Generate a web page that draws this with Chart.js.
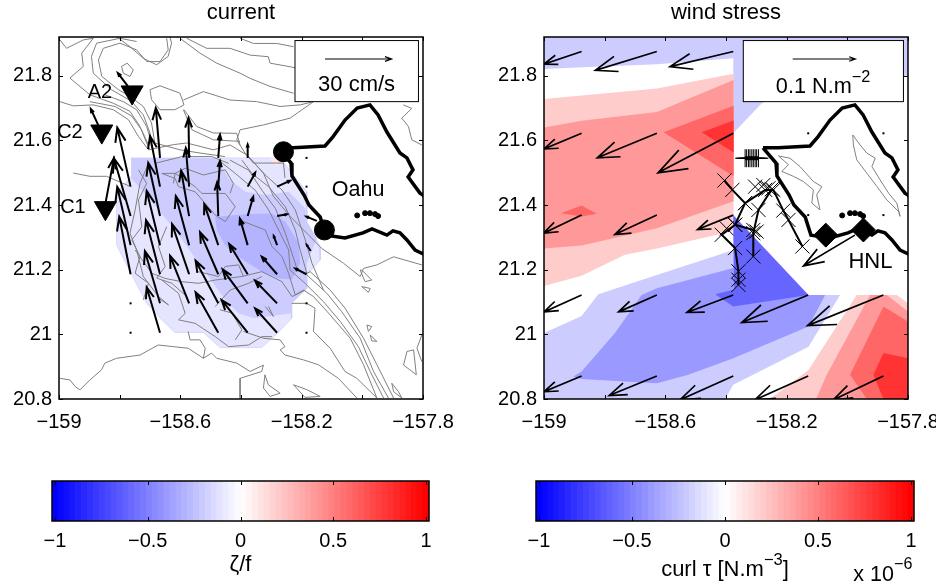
<!DOCTYPE html>
<html>
<head>
<meta charset="utf-8">
<script src="https://cdn.jsdelivr.net/npm/chart.js@4"></script>
<style>
  html, body { margin: 0; background: #fff; }
  canvas { position: absolute; }
</style>
</head>
<body>
<canvas id="mapCurrent" width="468" height="440" style="left:0;top:0"></canvas>
<canvas id="mapWind" width="468" height="440" style="left:468px;top:0"></canvas>
<canvas id="barCurrent" width="468" height="120" style="left:0;top:465px"></canvas>
<canvas id="barWind" width="468" height="120" style="left:468px;top:465px"></canvas>
<script>
// axes
const xTickVals = [-159, -158.8, -158.6, -158.4, -158.2, -158, -157.8];
const xTickLabels = ['\u2212159', '', '\u2212158.6', '', '\u2212158.2', '', '\u2212157.8'];
const yTickVals = [20.8, 21, 21.2, 21.4, 21.6, 21.8];
const yTickLabels = ['20.8', '21', '21.2', '21.4', '21.6', '21.8'];
const cbTickVals = [-1, -0.5, 0, 0.5, 1];
const cbTickLabels = ['\u22121', '\u22120.5', '0', '0.5', '1'];

// colorbar cells, one value per colour step
const cbValues = [-1, -0.9683, -0.9365, -0.9048, -0.873, -0.8413, -0.8095, -0.7778, -0.746, -0.7143, -0.6825, -0.6508, -0.619, -0.5873, -0.5556, -0.5238, -0.4921, -0.4603, -0.4286, -0.3968, -0.3651, -0.3333, -0.3016, -0.2698, -0.2381, -0.2063, -0.1746, -0.1429, -0.1111, -0.0794, -0.0476, -0.0159,
  0.0159, 0.0476, 0.0794, 0.1111, 0.1429, 0.1746, 0.2063, 0.2381, 0.2698, 0.3016, 0.3333, 0.3651, 0.3968, 0.4286, 0.4603, 0.4921, 0.5238, 0.5556, 0.5873, 0.619, 0.6508, 0.6825, 0.7143, 0.746, 0.7778, 0.8095, 0.8413, 0.873, 0.9048, 0.9365, 0.9683, 1];

// Oahu coastline, lon,lat pairs
const coast = [-158.278,21.577, -158.235,21.530, -158.232,21.490, -158.192,21.431, -158.176,21.400, -158.139,21.363, -158.120,21.307, -158.057,21.298, -157.998,21.314, -157.968,21.326, -157.919,21.307, -157.899,21.320, -157.876,21.314, -157.853,21.292, -157.826,21.261, -157.8,21.249, -157.727,21.338, -157.8,21.431, -157.81,21.437, -157.849,21.487, -157.833,21.509, -157.853,21.546, -157.876,21.561, -157.919,21.626, -157.948,21.679, -157.975,21.710, -158.017,21.700, -158.057,21.663, -158.097,21.611, -158.123,21.583, -158.228,21.577, -158.278,21.577];
const islets = [[-158.017,21.368], [-157.991,21.375], [-157.975,21.375], [-157.958,21.372], [-157.948,21.366]];

// bathymetry contours
const contours = [
  [-158.645,21.916, -158.640,21.880, -158.667,21.844, -158.711,21.844, -158.744,21.880, -158.799,21.901, -158.854,21.885, -158.870,21.849, -158.859,21.798, -158.804,21.757, -158.766,21.736, -158.722,21.705, -158.695,21.654, -158.684,21.592],
  [-158.744,21.906, -158.799,21.916, -158.876,21.901, -158.893,21.860, -158.887,21.808, -158.827,21.757, -158.761,21.721, -158.722,21.679, -158.700,21.623, -158.695,21.576],
  [-158.997,21.911, -158.975,21.885, -158.920,21.911, -158.887,21.916, -158.925,21.870, -158.920,21.829, -158.964,21.793, -158.931,21.767, -158.898,21.741, -158.821,21.715, -158.766,21.690, -158.733,21.643, -158.711,21.592, -158.700,21.571],
  [-158.997,21.720, -158.953,21.707, -158.887,21.710, -158.821,21.695, -158.771,21.664, -158.738,21.612, -158.705,21.571, -158.623,21.587, -158.579,21.592, -158.491,21.571, -158.436,21.586, -158.381,21.555, -158.326,21.499, -158.293,21.427, -158.238,21.365, -158.180,21.310, -158.134,21.266, -158.062,21.220, -158.007,21.179, -157.996,21.204, -157.952,21.215, -157.897,21.240, -157.804,21.215],
  [-158.794,21.829, -158.775,21.839, -158.755,21.818, -158.766,21.798, -158.788,21.808, -158.794,21.829],
  [-158.700,21.757, -158.667,21.769, -158.601,21.746, -158.588,21.710, -158.618,21.695, -158.667,21.695, -158.695,21.726, -158.700,21.757],
  [-158.601,21.916, -158.535,21.870, -158.480,21.839, -158.403,21.808, -158.370,21.792, -158.304,21.767, -158.227,21.746],
  [-158.579,21.916, -158.513,21.885, -158.436,21.885, -158.370,21.864, -158.310,21.859, -158.304,21.839, -158.238,21.828, -158.216,21.823],
  [-158.403,21.916, -158.359,21.900, -158.282,21.900, -158.227,21.890],
  [-158.590,21.725, -158.524,21.751, -158.436,21.725, -158.348,21.720, -158.271,21.705, -158.205,21.710, -158.161,21.720, -158.238,21.669, -158.326,21.648, -158.403,21.633, -158.414,21.602, -158.387,21.561, -158.359,21.530, -158.260,21.530, -158.255,21.484],
  [-158.588,21.695, -158.546,21.643, -158.491,21.623, -158.414,21.622, -158.403,21.585],
  [-158.997,20.864, -158.964,20.859, -158.947,20.839, -158.931,20.828, -158.898,20.859, -158.860,20.890, -158.849,20.911, -158.810,20.926, -158.733,20.936, -158.673,20.967, -158.623,20.962, -158.574,20.957, -158.524,20.926, -158.497,20.942, -158.480,20.926, -158.414,20.911, -158.370,20.885, -158.326,20.905, -158.332,20.885, -158.403,20.864, -158.403,20.802],
  [-158.574,21.009, -158.568,20.983, -158.535,20.983, -158.518,20.957, -158.524,20.926],
  [-158.392,21.009, -158.326,20.988, -158.271,20.983, -158.255,20.962, -158.271,20.952, -158.255,20.936, -158.194,20.921, -158.145,20.906, -158.079,20.864, -158.018,20.803],
  [-158.397,21.539, -158.364,21.498, -158.309,21.457, -158.254,21.395, -158.221,21.323, -158.205,21.261, -158.183,21.189, -158.172,21.194, -158.106,21.137, -158.057,21.081, -157.996,20.988, -157.952,20.906, -157.897,20.803],
  [-158.436,21.539, -158.375,21.508, -158.331,21.446, -158.287,21.390, -158.254,21.313, -158.232,21.251, -158.216,21.204, -158.183,21.184, -158.117,21.127, -158.068,21.070, -158.007,20.988, -157.963,20.885, -157.914,20.803],
  [-158.474,21.539, -158.419,21.498, -158.353,21.446, -158.309,21.385, -158.276,21.323, -158.243,21.261, -158.238,21.199, -158.189,21.158, -158.128,21.101, -158.073,21.040, -158.013,20.962, -157.974,20.885, -157.930,20.803],
  [-158.392,21.349, -158.320,21.323, -158.298,21.272, -158.265,21.241, -158.243,21.189, -158.221,21.122, -158.194,21.137, -158.161,21.117, -158.106,21.060, -158.040,20.988, -157.996,20.906, -157.952,20.803],
  [-158.375,21.550, -158.320,21.493, -158.265,21.447, -158.221,21.385, -158.188,21.292, -158.166,21.220, -158.128,21.137],
  [-158.233,21.096, -158.183,21.096, -158.156,21.081, -158.161,21.009, -158.106,20.957, -158.057,20.885, -158.018,20.864, -157.952,20.803],
  [-158.227,20.844, -158.183,20.829, -158.139,20.808, -158.189,20.805, -158.227,20.844],
  [-158.321,20.875, -158.310,20.844, -158.271,20.818, -158.304,20.808, -158.326,20.834, -158.321,20.875],
  [-157.853,20.947, -157.831,20.952, -157.822,20.875, -157.864,20.905, -157.853,20.947],
  [-157.985,21.029, -157.969,21.024, -157.980,21.009, -157.985,21.029],
  [-157.974,20.998, -157.952,20.978, -157.969,20.980, -157.974,20.998],
  [-158.002,21.199, -157.969,21.168, -157.991,21.163, -158.007,21.199, -158.002,21.199],
  [-158.002,21.148, -157.974,21.142, -157.980,21.130, -158.002,21.148],
  [-157.903,20.849, -157.881,20.823, -157.870,20.803, -157.897,20.823, -157.903,20.849],
  [-157.804,20.998, -157.820,20.957, -157.804,20.916],
  [-157.865,21.710, -157.837,21.699, -157.870,21.669, -157.848,21.643, -157.837,21.602, -157.804,21.586],
  [-158.953,21.499, -158.898,21.489, -158.843,21.489, -158.766,21.458],
  [-158.705,21.529, -158.733,21.467, -158.749,21.385, -158.766,21.313, -158.744,21.261, -158.722,21.179, -158.672,21.117, -158.639,21.091, -158.672,21.112],
  [-158.661,21.498, -158.617,21.498, -158.551,21.457, -158.529,21.436, -158.452,21.436, -158.419,21.395, -158.452,21.349, -158.485,21.369, -158.518,21.405, -158.551,21.441, -158.606,21.457, -158.617,21.482, -158.661,21.498],
  [-158.749,21.261, -158.694,21.189, -158.650,21.173, -158.595,21.163, -158.540,21.158, -158.485,21.168, -158.397,21.179, -158.331,21.194, -158.265,21.163, -158.232,21.117, -158.188,21.137],
  [-158.661,21.168, -158.606,21.127, -158.584,21.065, -158.606,21.045, -158.551,21.034, -158.485,20.993, -158.441,20.962, -158.375,20.967, -158.331,20.993, -158.298,20.993],
  [-158.540,21.194, -158.474,21.179, -158.452,21.210, -158.408,21.215, -158.392,21.179],
  [-158.485,21.086, -158.436,21.137, -158.375,21.158, -158.331,21.179],
  [-158.469,21.076, -158.430,21.066, -158.397,21.014, -158.419,20.983],
  [-158.320,21.086, -158.293,21.055, -158.309,21.086],
  [-158.623,21.467, -158.617,21.498, -158.584,21.514, -158.524,21.493, -158.452,21.509, -158.425,21.467, -158.436,21.436],
  [-158.683,21.529, -158.595,21.550, -158.496,21.550, -158.441,21.529],
  [-158.810,21.921, -158.766,21.890, -158.722,21.854, -158.678,21.834, -158.640,21.860, -158.629,21.901, -158.634,21.921],
  [-158.898,21.720, -158.815,21.705, -158.761,21.676, -158.728,21.633, -158.705,21.586],
  [-158.848,21.741, -158.788,21.720, -158.744,21.695, -158.711,21.643, -158.695,21.592],
  [-158.684,21.592, -158.601,21.571, -158.535,21.561, -158.453,21.550],
  [-158.590,21.695, -158.562,21.633, -158.491,21.602, -158.403,21.597],
  [-158.738,21.509, -158.711,21.467, -158.738,21.416, -158.727,21.333, -158.760,21.292, -158.733,21.241, -158.749,21.189, -158.705,21.158, -158.722,21.107],
  [-158.645,21.333, -158.672,21.272, -158.650,21.210, -158.678,21.174, -158.628,21.158, -158.579,21.117]
];

// contours inside the island, wind panel only
const ridges = [
  [-158.227,21.552, -158.189,21.545, -158.156,21.519, -158.112,21.473, -158.084,21.457, -158.101,21.432, -158.090,21.385, -158.117,21.406, -158.112,21.447, -158.145,21.473, -158.178,21.489, -158.216,21.504, -158.194,21.525, -158.227,21.552],
  [-157.982,21.617, -157.958,21.586, -157.936,21.561, -157.908,21.545, -157.919,21.519, -157.892,21.478, -157.864,21.437, -157.837,21.406, -157.826,21.365, -157.831,21.380, -157.870,21.416, -157.903,21.458, -157.936,21.499, -157.969,21.540, -157.980,21.586, -157.982,21.617]
];

// vorticity regions, current panel
const vortLight = [-158.763,21.546, -158.271,21.546, -158.183,21.441, -158.183,21.349, -158.139,21.271, -158.139,21.230, -158.183,21.184, -158.183,21.143, -158.233,21.096, -158.233,21.050, -158.280,21.003, -158.332,20.959, -158.469,20.959, -158.524,21.006, -158.618,21.006, -158.667,21.051, -158.711,21.096, -158.760,21.184, -158.810,21.276, -158.810,21.437, -158.763,21.487];
const vortMid = [-158.762,21.546, -158.480,21.546, -158.441,21.482, -158.386,21.441, -158.320,21.431, -158.243,21.441, -158.188,21.390, -158.183,21.349, -158.150,21.297, -158.183,21.220, -158.183,21.143, -158.232,21.096, -158.232,21.065, -158.287,21.058, -158.358,21.050, -158.408,21.065, -158.452,21.106, -158.507,21.179, -158.562,21.251, -158.617,21.323, -158.672,21.385, -158.711,21.431, -158.762,21.482];
const vortDark = [-158.485,21.364, -158.375,21.372, -158.298,21.374, -158.254,21.349, -158.210,21.282, -158.205,21.220, -158.232,21.170, -158.276,21.173, -158.331,21.194, -158.375,21.220, -158.419,21.246, -158.452,21.276, -158.480,21.323];
const vortPink = [-158.306,21.546, -158.271,21.546, -158.285,21.518];

// wind stress curl regions
const curlBlueTop = [-159,21.92, -157.8,21.92, -157.8,21.80, -158.09,21.80, -158.282,21.715, -158.376,21.622, -158.376,21.854, -158.628,21.836, -158.832,21.828, -159,21.821];
const curlPink = [-159,21.728, -158.628,21.761, -158.375,21.806, -158.375,21.320, -158.628,21.266, -158.733,21.246, -158.876,21.181, -159,21.150];
const curlRed2 = [-159,21.640, -158.876,21.661, -158.628,21.688, -158.375,21.787, -158.375,21.412, -158.628,21.328, -158.876,21.275, -159,21.266];
const curlRed3 = [-158.606,21.625, -158.375,21.707, -158.375,21.489];
const curlRed3b = [-158.944,21.375, -158.876,21.399, -158.826,21.373, -158.876,21.365];
const curlRed4 = [-158.480,21.625, -158.375,21.662, -158.375,21.563];
const curlBlue1 = [-159,21.004, -158.876,21.057, -158.821,21.124, -158.628,21.184, -158.375,21.261, -158.376,21.122, -158.024,21.122, -158.128,20.962, -158.376,20.844, -158.403,20.8, -159,20.8];
const curlBlue2 = [-158.903,20.870, -158.876,20.885, -158.766,21.004, -158.678,21.122, -158.628,21.143, -158.375,21.205, -158.376,21.122, -158.073,21.122, -158.128,21.024, -158.376,20.926, -158.524,20.875, -158.628,20.849, -158.876,20.862];
const curlBlue3 = [-158.376,21.369, -158.128,21.122, -158.376,21.086, -158.436,21.124, -158.375,21.138];
const curlSePink = [-157.969,21.122, -157.837,21.122, -157.8,21.096, -157.8,20.8, -158.255,20.8, -158.128,20.890];
const curlSeRed2 = [-157.925,21.122, -157.870,21.122, -157.8,21.071, -157.8,20.8, -158.103,20.8, -158.068,20.875];
const curlSeRed3 = [-157.881,21.086, -157.8,21.040, -157.8,20.8, -157.936,20.8, -157.991,20.875];
const curlSeRed4 = [-157.881,20.942, -157.8,20.926, -157.8,20.8, -157.881,20.8, -157.914,20.875];

// current vectors, cm/s
const curLon = [-158.764,-158.764,-158.764,-158.764, -158.667,-158.667,-158.667,-158.667,-158.667,-158.667,-158.667, -158.571,-158.571,-158.571,-158.571,-158.571,-158.571, -158.475,-158.475,-158.475,-158.475,-158.475,-158.475,-158.475, -158.378,-158.378,-158.378,-158.378,-158.378,-158.378,-158.378, -158.281,-158.281,-158.281,-158.281,-158.281,-158.281, -158.184,-158.17,-158.150, -158.773,-158.871,-158.846, -158.764,-158.764,-158.184,-158.184,-158.184,-158.184];
const curLat = [21.457,21.366,21.276,21.186, 21.546,21.457,21.366,21.276,21.186,21.096,21.005, 21.546,21.457,21.366,21.276,21.186,21.096, 21.546,21.457,21.366,21.276,21.186,21.096,21.005, 21.546,21.457,21.366,21.276,21.186,21.096,21.005, 21.457,21.366,21.276,21.186,21.096,21.005, 21.186,21.258,21.351, 21.768,21.648,21.410, 21.096,21.005,21.096,21.005,21.546,21.457];
const curU = [-6.0,-7.5,-6.0,-5.1, -1.9,-4.5,-5.3,-6.0,-6.3,-6.8,-6.0, -0.3,-1.5,-3.6,-6.0,-7.7,-8.6, 0.8,0.8,-0.5,-6.3,-8.2,-10.2,-10.2, 0,3.4,2.5,-3.5,-8.3,-11.3,-11.7, 5.9,4.4,-1.5,-6.9,-9.9,-9.9, -5.0,-1.8,-4.7, -4.5,-3.3,3.7, 0,0,0,0,0,0];
const curV = [26.6,26.0,26.2,25.9, 22.5,22.8,24.0,24.4,24.4,23.5,20.5, 18.0,17.4,20.4,22.1,22.6,21.4, 10.4,11.6,15.2,18.5,18.9,19.2,18.2, 6.0,6.3,8.7,12.0,13.6,15.3,14.7, 2.7,0.8,4.1,7.9,10.2,11.0, 2.5,2.7,1.9, 5.9,7.2,19.7, 0,0,0,0,0,0];

// wind stress vectors, N/m2
const windLon = [-158.876,-158.628,-158.376, -158.876,-158.628,-158.376, -158.876,-158.628,-158.376, -158.876,-158.628,-158.376,-158.129,-157.881, -158.876,-158.628,-158.376,-158.129,-157.881, -157.975, -158.129,-157.881,-158.129,-157.881];
const windLat = [21.875,21.875,21.875, 21.622,21.622,21.622, 21.369,21.369,21.369, 21.122,21.122,21.122,21.122,21.122, 20.871,20.871,20.871,20.871,20.871, 21.307, 21.622,21.622,21.369,21.369];
const windU = [-.060,-.098,-.101, -.060,-.095,-.120, -.061,-.067,-.057, -.060,-.061,-.074,-.106,-.121, -.060,-.076,-.085,-.085,-.080, -.082, 0,0,0,0];
const windV = [-.020,-.030,-.024, -.025,-.039,-.063, -.029,-.031,-.023, -.027,-.027,-.028,-.044,-.049, -.025,-.031,-.038,-.038,-.038, -.049, 0,0,0,0];

// moorings and stations
const moorings = [[-158.759,21.749], [-158.859,21.628], [-158.847,21.391]];
const capes = [[-158.26,21.565], [-158.125,21.323]];
const stations = [[-158.071,21.307], [-157.947,21.323]];

// tracks in the wind panel
const trackA = [-158.405,21.476, -158.379,21.447, -158.337,21.406, -158.271,21.447, -158.244,21.447, -158.211,21.383, -158.194,21.354, -158.148,21.272];
const trackB = [-158.249,21.449, -158.293,21.385, -158.310,21.313, -158.310,21.241];
const trackC = [-158.337,21.406, -158.370,21.339, -158.414,21.308, -158.370,21.267, -158.359,21.195, -158.359,21.153];
const trackD = [-158.370,21.339, -158.310,21.323];
const trackCrosses = [-158.304,21.457, -158.277,21.462, -158.260,21.452, -158.299,21.318, -158.359,21.169, -158.398,21.328];
const sectionLine = [-158.370,21.545, -158.260,21.545];
const sectionMarks = [-158.337,21.545, -158.332,21.545, -158.326,21.545, -158.321,21.545, -158.315,21.545, -158.310,21.545, -158.304,21.545, -158.299,21.545, -158.293,21.545];

const BLACK = '#000', GRAY = '#808080';
Chart.defaults.font.family = '"Liberation Sans", Arial, sans-serif';
Chart.defaults.font.size = 20;
Chart.defaults.color = '#000';
Chart.defaults.animation = false;

function pts(flat) {
  const out = [];
  for (let i = 0; i < flat.length; i += 2) out.push({x: flat[i], y: flat[i + 1]});
  return out;
}
function region(flat, color, edge) {
  return {data: pts(flat), fill: 'shape', backgroundColor: color, borderColor: edge || 'transparent', borderWidth: edge ? 0.6 : 0, pointRadius: 0, tension: 0};
}
function stroke(flat, color, width) {
  return {data: pts(flat), fill: false, borderColor: color, borderWidth: width, pointRadius: 0, tension: 0};
}
function marks(list, style, radius, extra) {
  return Object.assign({data: list.map(p => ({x: p[0], y: p[1]})), showLine: false, pointStyle: style, pointRadius: radius, pointBackgroundColor: BLACK, pointBorderColor: BLACK, pointBorderWidth: 1}, extra || {});
}
function crossed(flat, width) {
  return {data: pts(flat), borderColor: BLACK, borderWidth: width, showLine: width > 0, fill: false, tension: 0, pointStyle: 'crossRot', pointRadius: 10, pointBorderColor: BLACK, pointBorderWidth: 1};
}

function arrow(ctx, x0, y0, x1, y1, head) {
  const dx = x1 - x0, dy = y1 - y0;
  if (dx === 0 && dy === 0) { ctx.fillRect(x0 - 1, y0 - 1, 2, 2); return; }
  ctx.beginPath();
  ctx.moveTo(x0, y0);
  ctx.lineTo(x1, y1);
  ctx.moveTo(x1 - head * (dx + 0.36 * dy), y1 - head * (dy - 0.36 * dx));
  ctx.lineTo(x1, y1);
  ctx.lineTo(x1 - head * (dx - 0.36 * dy), y1 - head * (dy + 0.36 * dx));
  ctx.stroke();
}

function rich(ctx, parts, cx, cy, size, align) {
  let w = 0;
  parts.forEach(p => {
    ctx.font = (p.sup ? size * 0.75 : size) + 'px "Liberation Sans"';
    w += ctx.measureText(p.t).width;
  });
  let x = align === 'left' ? cx : cx - w / 2;
  ctx.textAlign = 'left';
  ctx.textBaseline = 'middle';
  parts.forEach(p => {
    ctx.font = (p.sup ? size * 0.75 : size) + 'px "Liberation Sans"';
    ctx.fillText(p.t, x, p.sup ? cy - 10 : cy);
    x += ctx.measureText(p.t).width;
  });
}

function mapDecor(cfg) {
  return {
    id: 'mapDecor',
    afterDraw(chart) {
      const {ctx, chartArea: a, scales: {x, y}} = chart;
      ctx.save();
      ctx.strokeStyle = BLACK;
      ctx.fillStyle = BLACK;
      // quiver
      ctx.save();
      ctx.beginPath();
      ctx.rect(a.left, a.top, a.right - a.left, a.bottom - a.top);
      ctx.clip();
      ctx.lineWidth = cfg.lineWidth;
      cfg.lon.forEach((lon, i) => {
        const px = x.getPixelForValue(lon), py = y.getPixelForValue(cfg.lat[i]);
        arrow(ctx, px, py, px + cfg.u[i] * cfg.scale, py - cfg.v[i] * cfg.scale, cfg.head);
      });
      ctx.restore();
      // ticks and frame
      ctx.lineWidth = 1;
      ctx.beginPath();
      xTickVals.forEach(v => {
        const p = Math.round(x.getPixelForValue(v)) + 0.5;
        ctx.moveTo(p, a.top); ctx.lineTo(p, a.top + 4);
        ctx.moveTo(p, a.bottom); ctx.lineTo(p, a.bottom - 4);
      });
      yTickVals.forEach(v => {
        const p = Math.round(y.getPixelForValue(v)) + 0.5;
        ctx.moveTo(a.left, p); ctx.lineTo(a.left + 4, p);
        ctx.moveTo(a.right, p); ctx.lineTo(a.right - 4, p);
      });
      ctx.stroke();
      ctx.lineWidth = 1.5;
      ctx.strokeRect(a.left, a.top, a.right - a.left, a.bottom - a.top);
      // scale key
      const bx0 = x.getPixelForValue(cfg.box[0]), bx1 = x.getPixelForValue(cfg.box[1]);
      const by0 = y.getPixelForValue(cfg.box[2]), by1 = y.getPixelForValue(cfg.box[3]);
      ctx.fillStyle = '#fff';
      ctx.fillRect(bx0, by0, bx1 - bx0, by1 - by0);
      ctx.fillStyle = BLACK;
      ctx.lineWidth = 1;
      ctx.strokeRect(bx0, by0, bx1 - bx0, by1 - by0);
      const kx = x.getPixelForValue(cfg.key[0]), ky = y.getPixelForValue(cfg.key[1]);
      ctx.lineWidth = 1.2;
      arrow(ctx, kx, ky, kx + cfg.key[2] * cfg.scale, ky, 0.1);
      cfg.texts.forEach(t => rich(ctx, t.parts, x.getPixelForValue(t.lon), y.getPixelForValue(t.lat), t.size || 20));
      ctx.restore();
    }
  };
}

function mapChart(id, title, datasets, decor, leftWidth) {
  datasets.forEach((d, i) => { d.order = datasets.length - i; });
  new Chart(document.getElementById(id), {
    type: 'line',
    data: {datasets},
    plugins: [mapDecor(decor)],
    options: {
      responsive: false,
      events: [],
      layout: {padding: {top: 0, right: 468 - leftWidth - 364, left: 0, bottom: 0}},
      plugins: {
        legend: {display: false},
        tooltip: {enabled: false},
        title: {display: true, text: title, fullSize: false, font: {size: 22, weight: 'normal'}, padding: {top: 0, bottom: 10.6}}
      },
      scales: {
        x: {
          type: 'linear', min: -159, max: -157.8,
          grid: {display: false, drawTicks: false}, border: {display: false},
          afterBuildTicks: s => { s.ticks = xTickVals.map(v => ({value: v})); },
          afterFit: s => { s.height = 41; s.paddingLeft = 0; s.paddingRight = 0; },
          ticks: {autoSkip: false, maxRotation: 0, padding: 11, callback: (v, i) => xTickLabels[i]}
        },
        y: {
          type: 'linear', min: 20.8, max: 21.92,
          grid: {display: false, drawTicks: false}, border: {display: false},
          afterBuildTicks: s => { s.ticks = yTickVals.map(v => ({value: v})); },
          afterFit: s => { s.width = leftWidth; s.paddingTop = 0; s.paddingBottom = 0; },
          ticks: {autoSkip: false, padding: 7, callback: (v, i) => yTickLabels[i]}
        }
      }
    }
  });
}

const currentSets = [
  region(vortLight, '#e5e5ff', '#c4c4ff'),
  region(vortMid, '#ccccff'),
  region(vortDark, '#b3b3ff'),
  region(vortPink, '#ffe5e5')
];
contours.forEach(c => currentSets.push(stroke(c, GRAY, 1)));
currentSets.push(stroke(coast, BLACK, 3.5));
currentSets.push(marks(islets, 'circle', 2.5));
currentSets.push(marks(capes, 'circle', 10));
currentSets.push(marks(moorings, 'triangle', 12.7, {pointRotation: 180}));

mapChart('mapCurrent', 'current', currentSets, {
  lon: curLon, lat: curLat, u: curU, v: curV, scale: 2.22, head: 0.24, lineWidth: 2,
  box: [-158.222, -157.815, 21.909, 21.720],
  key: [-158.123, 21.852, 30],
  texts: [
    {parts: [{t: 'Oahu'}], lon: -158.014, lat: 21.447, size: 21.5},
    {parts: [{t: 'A2'}], lon: -158.865, lat: 21.748},
    {parts: [{t: 'C2'}], lon: -158.964, lat: 21.624},
    {parts: [{t: 'C1'}], lon: -158.954, lat: 21.391},
    {parts: [{t: '30 cm/s'}], lon: -158.019, lat: 21.772, size: 22}
  ]
}, 59);

const windSets = [
  region(curlBlueTop, '#ccccff'),
  region(curlPink, '#ffcccc'),
  region(curlRed2, '#ff9999'),
  region(curlRed3, '#ff6666'),
  region(curlRed3b, '#ff6666'),
  region(curlRed4, '#ff3333'),
  region(curlBlue1, '#ccccff'),
  region(curlBlue2, '#9999ff'),
  region(curlBlue3, '#6666ff'),
  region(curlSePink, '#ffcccc'),
  region(curlSeRed2, '#ff9999'),
  region(curlSeRed3, '#ff6666'),
  region(curlSeRed4, '#ff3333')
];
ridges.forEach(c => windSets.push(stroke(c, GRAY, 1)));
windSets.push(stroke(coast, BLACK, 3.5));
windSets.push(marks(islets, 'circle', 2.5));
windSets.push(crossed(trackA, 2));
windSets.push(crossed(trackB, 2));
windSets.push(crossed(trackC, 2));
windSets.push(crossed(trackD, 2));
windSets.push(crossed(trackCrosses, 0));
windSets.push(stroke(sectionLine, BLACK, 1));
windSets.push({data: pts(sectionMarks), borderColor: BLACK, borderWidth: 4, fill: false, tension: 0, pointStyle: 'cross', pointRadius: 9, pointBorderColor: BLACK, pointBorderWidth: 1});
windSets.push(marks(stations, 'rectRot', 12));

mapChart('mapWind', 'wind stress', windSets, {
  lon: windLon, lat: windLat, u: windU, v: windV, scale: 627, head: 0.34, lineWidth: 1.7,
  box: [-158.343, -157.815, 21.909, 21.720],
  key: [-158.180, 21.852, 0.1],
  texts: [
    {parts: [{t: 'HNL'}], lon: -157.924, lat: 21.224, size: 22},
    {parts: [{t: '0.1 N.m'}, {t: '\u22122', sup: true}], lon: -158.08, lat: 21.765, size: 21.7}
  ]
}, 76);

function bwr(v) {
  const c = Math.round(255 * (1 - Math.abs(v)));
  return v < 0 ? `rgb(${c},${c},255)` : `rgb(255,${c},${c})`;
}

function colorbar(id, padLeft, padRight, notes) {
  new Chart(document.getElementById(id), {
    type: 'bar',
    data: {datasets: [{
      data: cbValues.map(v => ({x: v, y: 1})),
      backgroundColor: cbValues.map(bwr),
      borderWidth: 0, barPercentage: 1, categoryPercentage: 1
    }]},
    plugins: [{
      id: 'cbDecor',
      afterDraw(chart) {
        const {ctx, chartArea: a, scales: {x}} = chart;
        ctx.save();
        ctx.strokeStyle = BLACK;
        ctx.fillStyle = BLACK;
        ctx.lineWidth = 1;
        ctx.beginPath();
        cbTickVals.forEach(v => {
          const p = Math.round(x.getPixelForValue(v)) + 0.5;
          ctx.moveTo(p, a.top); ctx.lineTo(p, a.top + 4);
          ctx.moveTo(p, a.bottom); ctx.lineTo(p, a.bottom - 4);
        });
        ctx.stroke();
        ctx.lineWidth = 1.5;
        ctx.strokeRect(a.left, a.top, a.right - a.left, a.bottom - a.top);
        notes.forEach(n => rich(ctx, n.parts, x.getPixelForValue(n.at), n.y, n.size || 20, n.align));
        ctx.restore();
      }
    }],
    options: {
      responsive: false,
      events: [],
      layout: {padding: {top: 16, left: padLeft, right: padRight, bottom: 0}},
      plugins: {legend: {display: false}, tooltip: {enabled: false}},
      scales: {
        x: {
          type: 'linear', min: -1.016, max: 1.016, offset: false,
          grid: {display: false, drawTicks: false}, border: {display: false},
          afterBuildTicks: s => { s.ticks = cbTickVals.map(v => ({value: v})); },
          afterFit: s => { s.height = 64; s.paddingLeft = 0; s.paddingRight = 0; },
          ticks: {autoSkip: false, maxRotation: 0, padding: 8, callback: (v, i) => cbTickLabels[i]}
        },
        y: {display: false, min: 0, max: 1}
      }
    }
  });
}

colorbar('barCurrent', 52, 39, [{parts: [{t: 'ζ/f'}], at: 0, y: 100, size: 22}]);
colorbar('barWind', 68, 22, [
  {parts: [{t: 'curl τ [N.m'}, {t: '\u22123', sup: true}, {t: ']'}], at: 0, y: 105, size: 22},
  {parts: [{t: 'x 10'}, {t: '\u22126', sup: true}], at: 0.69, y: 110, align: 'left', size: 21.5}
]);
</script>
</body>
</html>
